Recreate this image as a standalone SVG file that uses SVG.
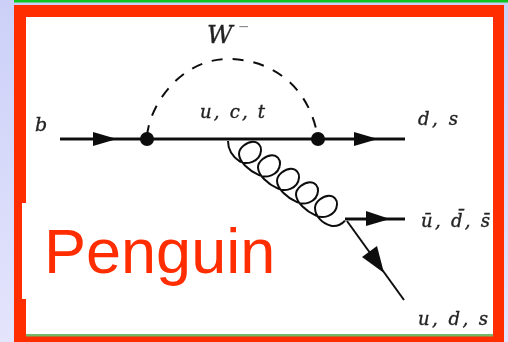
<svg xmlns="http://www.w3.org/2000/svg" width="508" height="342" viewBox="0 0 508 342">
<defs>
<linearGradient id="bg" x1="0" y1="0" x2="0" y2="1"><stop offset="0" stop-color="#ccd0f8"/><stop offset="1" stop-color="#e4e4fc"/></linearGradient>
<filter id="soft" x="-5%" y="-5%" width="110%" height="110%"><feGaussianBlur stdDeviation="0.6"/></filter>
</defs>
<style>
.l{fill:none;stroke:#111;stroke-width:3}
.t{fill:none;stroke:#111;stroke-width:2}
.a{fill:#111}
.m{font-family:"DejaVu Serif",serif;font-style:italic;fill:#222;stroke:#222;stroke-width:.35;font-size:18px}
</style>
<rect width="508" height="342" fill="url(#bg)"/>
<rect x="14" y="0" width="494" height="2.5" fill="#0cc51c"/>
<g id="frame">
<rect x="14" y="5" width="490" height="337" fill="#ff2d00"/>
<rect x="26" y="17" width="467" height="317" fill="#fff"/>
<rect x="22" y="203" width="4" height="96" fill="#fff"/>
<rect x="26" y="334" width="467" height="2.5" fill="#74b868"/>
</g>
<g id="connectors" filter="url(#soft)">
<path class="l" d="M60 139H405"/>
<path class="t" d="M147 139C147 110 178 59 228 59C270 59 310 85 318 139" stroke-dasharray="11 10" stroke-dashoffset="-3"/>
<path class="a" d="M93 132L117 139L93 146Z"/>
<path class="a" d="M354 132L378 139L354 146Z"/>
<path class="t" d="M228 141c0 9 5 16 12 20.7c6 3 20 1 21 -11c.5 -5 -3 -9 -8 -9c-6 0 -14 6 -14 12c0 8 10 17 20 21.5c6 3 20 1 21 -11c.5 -5 -3 -9 -8 -9c-6 0 -14 6 -14 12c0 8 10 17 20 21.5c6 3 20 1 21 -11c.5 -5 -3 -9 -8 -9c-6 0 -14 6 -14 12c0 8 10 17 20 21.5c6 3 20 1 21 -11c.5 -5 -3 -9 -8 -9c-6 0 -14 6 -14 12c0 8 10 17 20 21.5c6 3 20 1 21 -11c.5 -5 -3 -9 -8 -9c-6 0 -14 6 -14 12c0 8 7 16 16 18c5 1 10 -1 14 -5"/>
<path class="l" d="M345 219H405"/>
<path class="a" d="M366 211L390 219L366 226Z"/>
<path class="t" d="M347 221L404 300"/>
<path class="a" d="M362 257L377 246L384 273Z"/>
<circle class="a" cx="147" cy="139" r="7"/>
<circle class="a" cx="318" cy="139" r="7"/>
</g>
<g id="labels" filter="url(#soft)">
<text class="m" x="207" y="43" style="font-size:25px">W</text>
<text class="m" x="238" y="31" style="font-size:14px;fill:#888;stroke:none">−</text>
<text class="m" x="35" y="131" style="font-size:19px">b</text>
<text class="m" x="200" y="118" textLength="65">u, c, t</text>
<text class="m" x="418" y="125" textLength="40">d, s</text>
<text class="m" x="421" y="227" textLength="69">ū, d̄, s̄</text>
<text class="m" x="418" y="325" textLength="70">u, d, s</text>
</g>
<text x="44" y="273" font-family="Liberation Sans, sans-serif" font-size="63" fill="#ff2d00">Penguin</text>
</svg>
